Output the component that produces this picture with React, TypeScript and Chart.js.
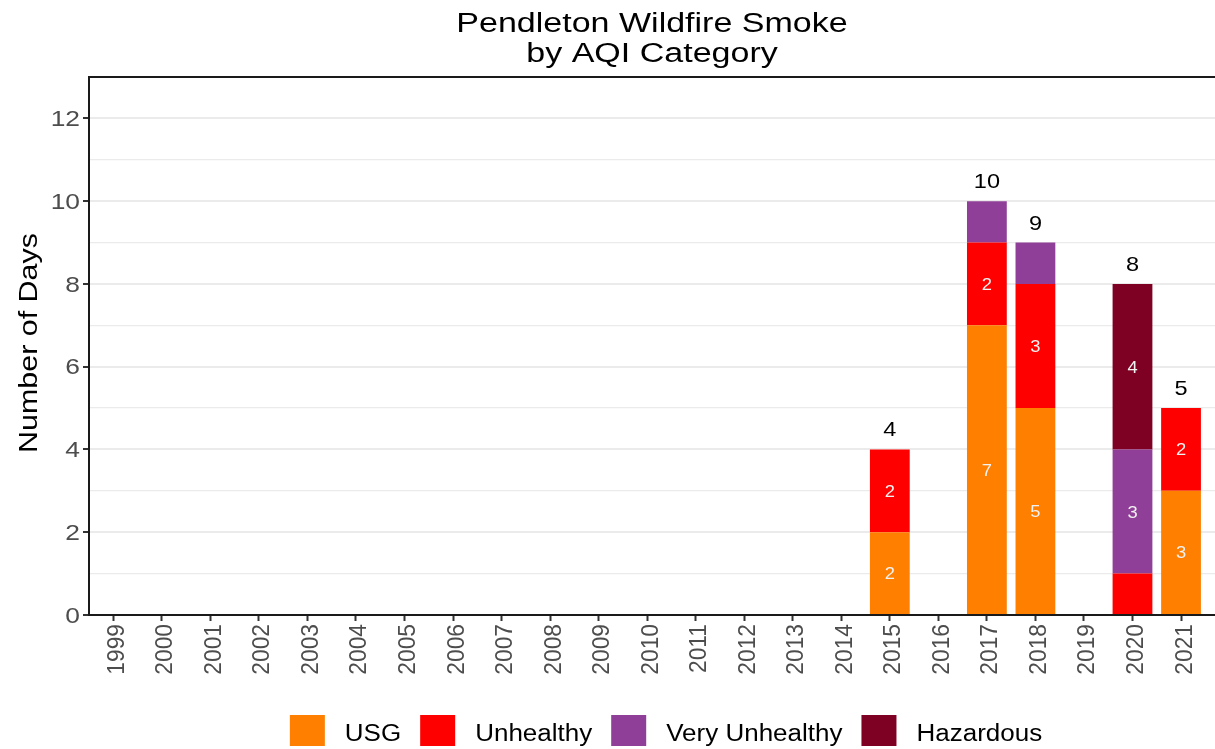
import React, { useEffect, useRef } from "react";
import { Chart, registerables } from "chart.js";

Chart.register(...registerables);

// ---------- data ----------
const years = [
  1999, 2000, 2001, 2002, 2003, 2004, 2005, 2006, 2007, 2008, 2009, 2010,
  2011, 2012, 2013, 2014, 2015, 2016, 2017, 2018, 2019, 2020, 2021,
];
const usg = [0, 0, 0, 0, 0, 0, 0, 0, 0, 0, 0, 0, 0, 0, 0, 0, 2, 0, 7, 5, 0, 0, 3];
const unhealthy = [0, 0, 0, 0, 0, 0, 0, 0, 0, 0, 0, 0, 0, 0, 0, 0, 2, 0, 2, 3, 0, 1, 2];
const veryUnhealthy = [0, 0, 0, 0, 0, 0, 0, 0, 0, 0, 0, 0, 0, 0, 0, 0, 0, 0, 1, 1, 0, 3, 0];
const hazardous = [0, 0, 0, 0, 0, 0, 0, 0, 0, 0, 0, 0, 0, 0, 0, 0, 0, 0, 0, 0, 0, 4, 0];

const categoryNames = ["USG", "Unhealthy", "Very Unhealthy", "Hazardous"];
const categoryColors = ["#FF7F00", "#FF0000", "#8F3F97", "#7E0023"];
const seriesList = [usg, unhealthy, veryUnhealthy, hazardous];

const yTickLabels = [0, 2, 4, 6, 8, 10, 12];
const titleLines = ["Pendleton Wildfire Smoke", "by AQI Category"];
const yAxisTitle = "Number of Days";

// ---------- helpers ----------
const FONT = '"Liberation Sans", Arial, Helvetica, sans-serif';

function drawText(
  ctx: CanvasRenderingContext2D,
  s: string,
  x: number,
  y: number,
  size: number,
  color: string,
  align: CanvasTextAlign,
  sx = 1,
  sy = 1,
  rot = 0
) {
  ctx.save();
  ctx.translate(x, y);
  if (rot) ctx.rotate(rot);
  ctx.scale(sx, sy);
  ctx.font = `${size}px ${FONT}`;
  ctx.fillStyle = color;
  ctx.textAlign = align;
  ctx.textBaseline = "alphabetic";
  ctx.fillText(s, 0, 0);
  ctx.restore();
}

const textPlugin = {
  id: "ggText",
  afterDraw(chart: any) {
    const { ctx, chartArea: ca, scales } = chart;
    const xs = scales.x;
    const ys = scales.y;

    // top panel line
    ctx.save();
    ctx.fillStyle = "#1a1a1a";
    ctx.fillRect(ca.left - 1, ca.top - 1, chart.width - ca.left + 1, 2);
    ctx.restore();

    // title
    const cx = (ca.left + ca.right) / 2;
    drawText(ctx, titleLines[0], cx, 32, 27, "#000", "center", 1.26);
    drawText(ctx, titleLines[1], cx, 62, 27, "#000", "center", 1.26);

    // y tick labels
    yTickLabels.forEach((v) => {
      const py = ys.getPixelForValue(v);
      drawText(ctx, String(v), 80, py + 7.8, 22, "#4d4d4d", "right", 1.2);
    });

    // x tick labels (rotated)
    years.forEach((yr) => {
      const px = xs.getPixelForValue(yr);
      drawText(ctx, String(yr), px + 10.5, 624, 24.5, "#4d4d4d", "right", 0.93, 1, -Math.PI / 2);
    });

    // y axis title
    drawText(ctx, yAxisTitle, 37, 343, 26, "#000", "center", 1.17, 1, -Math.PI / 2);

    // segment labels
    seriesList.forEach((series, i) => {
      const meta = chart.getDatasetMeta(i);
      meta.data.forEach((el: any, j: number) => {
        const v = series[j];
        if (v >= 2) {
          const p = el.getProps(["x", "y", "base"], true);
          const cy = (p.y + p.base) / 2;
          drawText(ctx, String(v), p.x, cy + 6, 17, "#f2f2f2", "center", 1.08);
        }
      });
    });

    // totals
    years.forEach((yr, j) => {
      const total = seriesList.reduce((a, s) => a + s[j], 0);
      if (total > 0) {
        const px = xs.getPixelForValue(yr);
        const py = ys.getPixelForValue(total);
        drawText(ctx, String(total), px, py - 13, 21, "#000", "center", 1.12);
      }
    });

    // legend
    const lf = 23;
    const lsx = 1.13;
    const box = 35;
    const boxH = 31;
    const gapText = 20;
    const gapItem = 19;
    ctx.save();
    ctx.font = `${lf}px ${FONT}`;
    const widths = categoryNames.map((n) => ctx.measureText(n).width * lsx);
    ctx.restore();
    const total = widths.reduce((a, w) => a + w + box + gapText, 0) + gapItem * (categoryNames.length - 1);
    let lx = 666 - total / 2;
    categoryNames.forEach((n, i) => {
      ctx.save();
      ctx.fillStyle = categoryColors[i];
      ctx.fillRect(lx, 715, box, boxH);
      ctx.restore();
      drawText(ctx, n, lx + box + gapText, 741, lf, "#000", "left", lsx);
      lx += box + gapText + widths[i] + gapItem;
    });
  },
};

export default function App() {
  const ref = useRef<HTMLCanvasElement | null>(null);

  useEffect(() => {
    const canvas = ref.current;
    if (!canvas) return;
    const chart = new Chart(canvas, {
      type: "bar",
      data: {
        labels: years,
        datasets: categoryNames.map((name, i) => ({
          label: name,
          data: seriesList[i],
          backgroundColor: categoryColors[i],
          borderWidth: 0,
          categoryPercentage: 1,
          barPercentage: 0.82,
        })),
      },
      options: {
        animation: false,
        responsive: false,
        maintainAspectRatio: false,
        devicePixelRatio: 1,
        layout: { padding: { top: 77, left: 0, right: 0, bottom: 0 } },
        plugins: {
          legend: { display: false },
          title: { display: false },
          tooltip: { enabled: false },
        },
        scales: {
          x: {
            type: "linear",
            stacked: true,
            min: 1998.5,
            max: 2021.7,
            offset: false,
            ticks: { display: false, stepSize: 1, includeBounds: false, autoSkip: false },
            grid: {
              offset: false,
              drawOnChartArea: false,
              drawTicks: true,
              tickLength: 6,
              tickColor: "#333333",
              tickWidth: 2,
            },
            border: { display: true, color: "#1a1a1a", width: 2 },
            afterFit: (s: any) => {
              s.height = 134;
            },
          },
          y: {
            type: "linear",
            stacked: true,
            min: 0,
            max: 13,
            ticks: { display: false, stepSize: 1 },
            grid: {
              color: (c: any) => (c.tick && c.tick.value >= 13 ? "rgba(0,0,0,0)" : "#ebebeb"),
              lineWidth: (c: any) => (c.tick && c.tick.value % 2 === 0 ? 2 : 1.2),
              drawTicks: true,
              tickLength: 6,
              tickColor: (c: any) =>
                c.tick && c.tick.value % 2 === 0 && c.tick.value < 13 ? "#333333" : "rgba(0,0,0,0)",
              tickWidth: 2,
            },
            border: { display: true, color: "#1a1a1a", width: 2 },
            afterFit: (s: any) => {
              s.width = 89;
            },
          },
        },
      } as any,
      plugins: [textPlugin],
    });
    return () => chart.destroy();
  }, []);

  return (
    <div
      style={{
        position: "fixed",
        left: 0,
        top: 0,
        width: 1215,
        height: 749,
        background: "#ffffff",
      }}
    >
      <canvas ref={ref} width={1215} height={749} style={{ display: "block", width: 1215, height: 749 }} />
    </div>
  );
}
